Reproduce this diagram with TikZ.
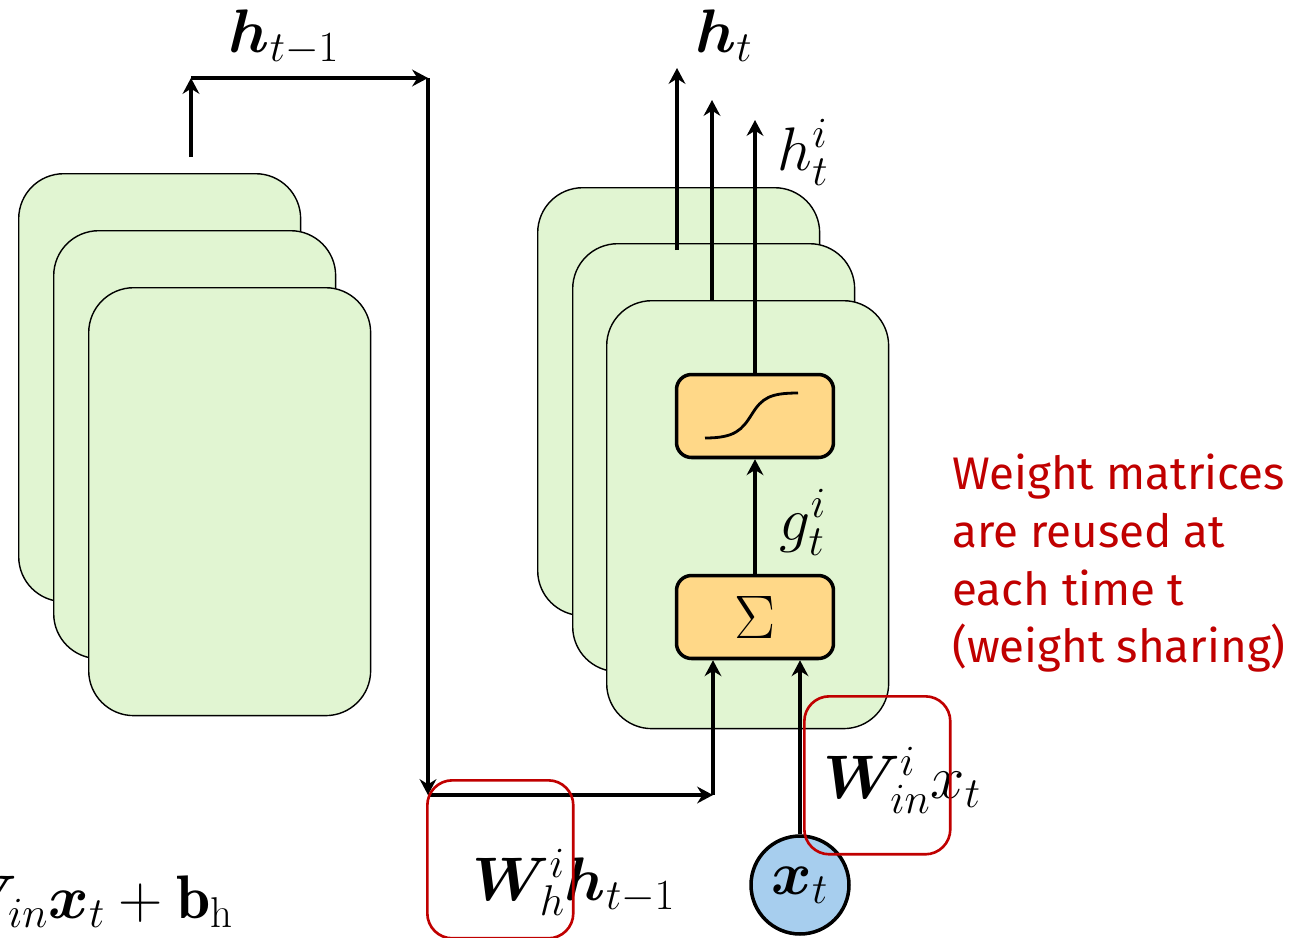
\RequirePackage{fix-cm}
\documentclass[tikz,border=0pt]{standalone}
\usepackage{bm}
\usepackage{fontspec}
\newfontfamily\notefont{Fira Sans}
\usetikzlibrary{arrows.meta,positioning,calc}
\definecolor{cellgreen}{RGB}{225,245,210}
\definecolor{opfill}{RGB}{255,216,136}
\definecolor{xblue}{RGB}{167,206,238}
\definecolor{notered}{RGB}{192,0,0}

\begin{document}
\begin{tikzpicture}[x=0.02cm,y=-0.02cm,>=Stealth,font=\fontsize{35}{40}\selectfont,
 cell/.style={draw,line width=0.8pt,fill=cellgreen,rounded corners=0.9cm,minimum width=5.64cm,minimum height=8.56cm,inner sep=0pt,anchor=north west},
 op/.style={draw,line width=2pt,fill=opfill,rounded corners=0.3cm,minimum width=3.14cm,minimum height=1.66cm,inner sep=0pt},
 wire/.style={line width=2.4pt,-{Stealth[length=9pt,width=9.5pt]}},
 share/.style={draw=notered,line width=1.5pt,rounded corners=0.5cm,minimum width=2.92cm,minimum height=3.16cm,inner sep=0pt,anchor=north west}]
 \useasboundingbox (0,0) rectangle (1309,937);
 \clip (0,0) rectangle (1309,937);
 \node[cell] (l1) at (18,173){};
 \node[cell] (l2) at (53,230){};
 \node[cell] (l3) at (88,287){};
 \node[cell] (r1) at (537,187){};
 \node[cell] (r2) at (572,243){};
 \node[cell] (r3) at (606,300){};
 \node[op] (sig) at (755,416){};
 \node[op] (sum) at (755,617){$\Sigma$};
 \node[draw,circle,line width=2pt,fill=xblue,minimum size=1.96cm,inner sep=0pt] (xt) at (800,885){$\bm x_t$};
 \draw[line width=1.6pt] (705,438) .. controls (735,438) and (742,430) .. (752,414) .. controls (762,398) and (770,393) .. (798,393);
 \coordinate (up) at (191,157);
 \coordinate (k1) at (191,78);
 \coordinate (k2) at (428,78);
 \coordinate (k3) at (428,795);
 \coordinate (k4) at (713,795);
 \coordinate (o1) at (677,250);
 \coordinate (o1e) at (677,68);
 \coordinate (o2) at (712,300);
 \coordinate (o2e) at (712,100);
 \coordinate (o3) at (755,120);
 \draw[wire] (up)--(k1);
 \draw[wire] (k1)--(k2);
 \draw[wire] (k2)--(k3);
 \draw[wire] (k3)--(k4);
 \draw[wire] (k4)--(sum.south -| k4);
 \draw[wire] (xt.north)--(xt.north |- sum.south);
 \draw[wire] (sum)--(sig);
 \draw[wire] (sig)--(o3);
 \draw[wire] (o1)--(o1e);
 \draw[wire] (o2)--(o2e);
 \node[anchor=base] (hprevlab) at (284,52){$\bm h_{t-1}$};
 \node[anchor=base] (htlab) at (724,52){$\bm h_t$};
 \node[anchor=base] (hilab) at (803,170){$h_t^i$};
 \node[anchor=base] (gilab) at (803,540){$g_t^i$};
 \node[anchor=base] (whlab) at (574,900){$\bm W_h^i\bm h_{t-1}$};
 \node[anchor=base] (winlab) at (902,798){$\bm W_{in}^i x_t$};
 \node[anchor=base east] (eqlab) at (240,918){$\bm W_{in}\bm x_t+\mathbf b_\mathrm{h}$};
 \node[anchor=north west,align=left,inner sep=0pt,text=notered,font=\notefont\fontsize{26}{32.8}\selectfont] (note) at (952,454){Weight matrices\\are reused at\\each time t\\(weight sharing)};
 \node[share] (wbox) at (426,779){};
 \node[share] (winbox) at (803,695){};
\end{tikzpicture}
\end{document}
